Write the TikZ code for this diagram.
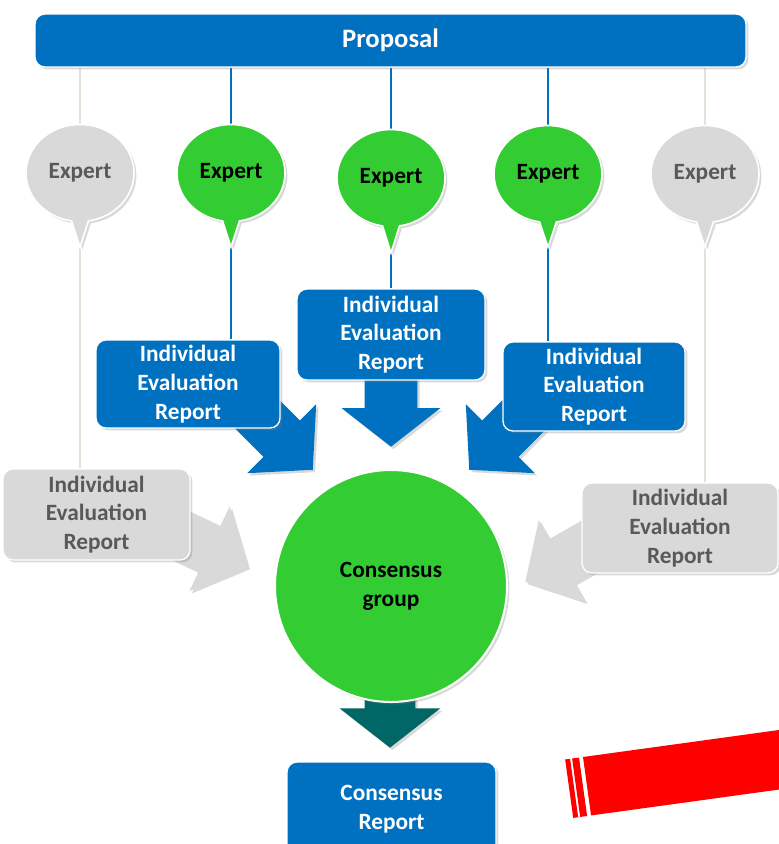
\documentclass[tikz,border=0pt]{standalone}
\usepackage{fontspec}
\setmainfont{Carlito}
\usetikzlibrary{shapes.callouts,shapes.arrows,shadows}
\definecolor{propblue}{RGB}{0,112,192}
\definecolor{expgreen}{RGB}{51,204,51}
\definecolor{offgray}{RGB}{217,217,217}
\definecolor{offtext}{RGB}{89,89,89}
\definecolor{offline}{RGB}{228,226,216}
\definecolor{outteal}{RGB}{0,102,102}
\pgfdeclarelayer{background}
\pgfsetlayers{background,main}
\begin{document}
\begin{tikzpicture}[x=0.75pt,y=0.75pt,yscale=-1,xscale=1,
	softshadow/.style={drop shadow={shadow xshift=1.8pt,shadow yshift=-1.8pt,opacity=0.3}},
	txt/.style={font=\bfseries\fontsize{17.5}{21.5}\selectfont},
	bluebox/.style={rectangle,rounded corners=7.5pt,fill=propblue,draw=white,line width=1pt,text=white,txt,align=center,inner sep=0pt,softshadow},
	graybox/.style={bluebox,fill=offgray,text=offtext},
	expert/.style={ellipse callout,callout pointer arc=18,minimum width=81pt,minimum height=72.75pt,draw=white,line width=1.2pt,inner sep=0pt,txt,softshadow},
	fatarrow/.style={single arrow,anchor=tip,inner xsep=0pt,minimum width=0pt,draw=none,softshadow}]
	\useasboundingbox (0,0) rectangle (779,844);
	%Proposal
	\node[bluebox,minimum width=533.25pt,minimum height=39.75pt,font=\bfseries\fontsize{20}{24}\selectfont] (prop) at (390.5,40.5) {Proposal};
	%Expert bubbles
	\node[expert,fill=offgray,text=offtext,callout absolute pointer={(80,247)}] (expA) at (80,173) {Expert};
	\node[expert,fill=expgreen,callout absolute pointer={(231,247)}] (expB) at (231,173) {Expert};
	\node[expert,fill=expgreen,callout absolute pointer={(391,253)}] (expC) at (391,178) {Expert};
	\node[expert,fill=expgreen,callout absolute pointer={(548,247)}] (expD) at (548,174) {Expert};
	\node[expert,fill=offgray,text=offtext,callout absolute pointer={(705,247)}] (expE) at (705,174) {Expert};
	%Individual reports
	\node[graybox,minimum width=140.25pt,minimum height=68.25pt] (repA) at (96.5,514.5) {Individual\\Evaluation\\Report};
	\node[bluebox,minimum width=138pt,minimum height=66pt] (repB) at (188,384) {Individual\\Evaluation\\Report};
	\node[bluebox,minimum width=141pt,minimum height=68.25pt] (repC) at (391,334.5) {Individual\\Evaluation\\Report};
	\node[bluebox,minimum width=136.5pt,minimum height=66.75pt] (repD) at (594,386.5) {Individual\\Evaluation\\Report};
	\node[graybox,minimum width=147pt,minimum height=67.5pt] (repE) at (680,528) {Individual\\Evaluation\\Report};
	%Consensus
	\node[circle,fill=expgreen,draw=white,line width=1.5pt,minimum size=174pt,txt,align=center,softshadow] (group) at (391,586) {Consensus\\group};
	\node[bluebox,minimum width=156.75pt,minimum height=70.5pt] (final) at (391.5,809) {Consensus\\Report};
	
	\begin{pgfonlayer}{background}
	%Straight Lines
	\draw[offline,line width=1.5pt] (expA |- prop.south) -- (expA |- repA.north);
	\draw[propblue,line width=1.2pt] (expB |- prop.south) -- (expB |- repB.north);
	\draw[propblue,line width=1.2pt] (expC |- prop.south) -- (expC |- repC.north);
	\draw[propblue,line width=1.2pt] (expD |- prop.south) -- (expD |- repD.north);
	\draw[offline,line width=1.5pt] (expE |- prop.south) -- (expE |- repE.north);
	%Block arrows
	\node[fatarrow,fill=offgray,rotate=-25.4,minimum height=65pt,inner ysep=18.75pt,single arrow head extend=16.25pt,single arrow tip angle=96] (arrA) at (248,567) {};
	\node[fatarrow,fill=propblue,rotate=-45,minimum height=64pt,inner ysep=19.1pt,single arrow head extend=17.25pt,single arrow tip angle=96] (arrB) at (313,470) {};
	\node[fatarrow,fill=propblue,rotate=-90,minimum height=57.75pt,inner ysep=19.5pt,single arrow head extend=17.25pt,single arrow tip angle=104] (arrC) at (391,447) {};
	\node[fatarrow,fill=propblue,rotate=-135,minimum height=64pt,inner ysep=19.1pt,single arrow head extend=17.25pt,single arrow tip angle=96] (arrD) at (469,470) {};
	\node[fatarrow,fill=offgray,rotate=-150.3,minimum height=65pt,inner ysep=18.75pt,single arrow head extend=16.25pt,single arrow tip angle=96] (arrE) at (525,582) {};
	\node[fatarrow,fill=outteal,rotate=-90,minimum height=57pt,inner ysep=18.75pt,single arrow head extend=18.75pt,single arrow tip angle=104] (arrF) at (390,748) {};
	\end{pgfonlayer}
	
	%Red bar
	\begin{scope}[shift={(583,757)},rotate=-7.85]
		\fill[red] (0,0) rectangle (200,59);
		\fill[red] (-11,0) rectangle (-4,59);
		\fill[red] (-18,0) rectangle (-13,59);
	\end{scope}
\end{tikzpicture}
\end{document}
